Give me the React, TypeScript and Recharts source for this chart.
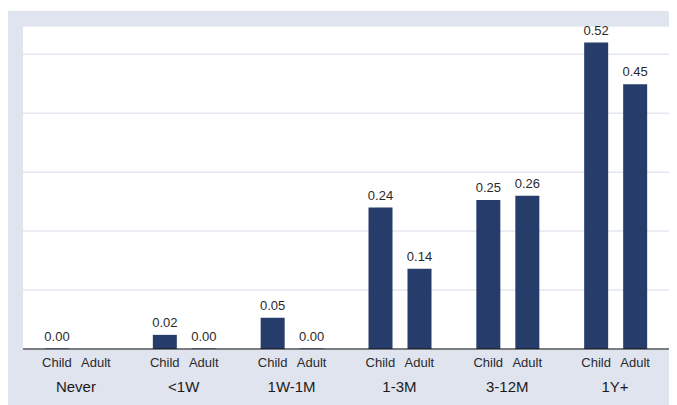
import React from "react";
import { BarChart, Bar, XAxis, YAxis, CartesianGrid } from "recharts";

const categories = ["Never", "<1W", "1W-1M", "1-3M", "3-12M", "1Y+"];
const childValues = [0.0, 0.024, 0.053, 0.24, 0.253, 0.52];
const adultValues: (number | null)[] = [null, 0.0, 0.0, 0.136, 0.26, 0.449];
const subLabels = ["Child", "Adult"];
const yTicks = [0, 0.1, 0.2, 0.3, 0.4, 0.5];

const data = categories.map((c, i) => ({ name: c, child: childValues[i], adult: adultValues[i] }));

const FONT = "Arial, 'Liberation Sans', sans-serif";

const Tick = (props: any) => {
  const { x, y, payload } = props;
  return (
    <g>
      <text x={x - 20} y={y + 18} textAnchor="middle" fontSize={13} fill="#2a2a2a" fontFamily={FONT}>
        {subLabels[0]}
      </text>
      <text x={x + 19} y={y + 18} textAnchor="middle" fontSize={13} fill="#2a2a2a" fontFamily={FONT}>
        {subLabels[1]}
      </text>
      <text x={x - 1} y={y + 43} textAnchor="middle" fontSize={15} fill="#1a1a1a" fontFamily={FONT}>
        {payload.value}
      </text>
    </g>
  );
};

const ValueLabel = (props: any) => {
  const { x, y, width, value } = props;
  if (value === null || value === undefined) return null;
  return (
    <text x={x + width / 2} y={y - 8} textAnchor="middle" fontSize={13} fill="#2a2a2a" fontFamily={FONT}>
      {Number(value).toFixed(2)}
    </text>
  );
};

export default function App() {
  return (
    <div style={{ marginTop: 3, width: 666, height: 394, background: "#e0e4ef" }}>
      <BarChart
        width={666}
        height={394}
        data={data}
        margin={{ top: 15, right: 4, left: 15, bottom: 0 }}
        barSize={24}
        barGap={15}
      >
        <CartesianGrid vertical={false} fill="#ffffff" stroke="#e3e7f1" strokeWidth={1.5} />
        <YAxis hide domain={[0, 0.548]} ticks={yTicks} width={0} />
        <Bar dataKey="child" fill="#263c6b" isAnimationActive={false} minPointSize={0.5} label={<ValueLabel />} />
        <Bar dataKey="adult" fill="#263c6b" isAnimationActive={false} minPointSize={0.5} label={<ValueLabel />} />
        <XAxis
          dataKey="name"
          height={56}
          tickLine={false}
          tickSize={0}
          tickMargin={0}
          axisLine={{ stroke: "#111", strokeWidth: 1.2 }}
          tick={<Tick />}
          interval={0}
        />
      </BarChart>
    </div>
  );
}
